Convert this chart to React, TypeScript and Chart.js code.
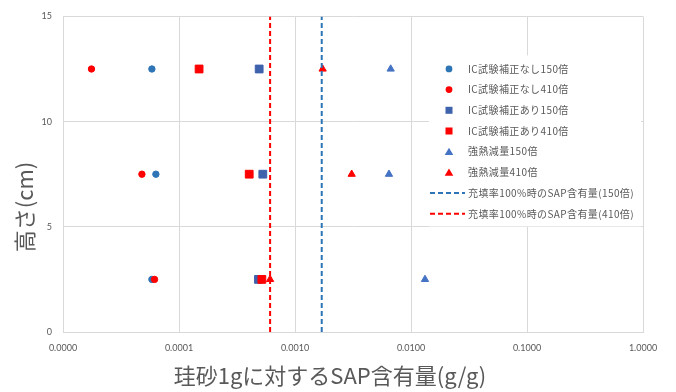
import React, { useEffect, useRef } from 'react';
import { Chart, registerables } from 'chart.js';

Chart.register(...registerables);

// ---- data ----
const heights = [12.5, 7.5, 2.5];
const icNoCorr150 = [5.84e-5, 6.32e-5, 5.84e-5];
const icNoCorr410 = [1.76e-5, 4.79e-5, 6.15e-5];
const icCorr150 = [4.91e-4, 5.28e-4, 4.84e-4];
const icCorr410 = [1.49e-4, 4.03e-4, 5.18e-4];
const ignition150 = [6.68e-3, 6.46e-3, 1.32e-2];
const ignition410 = [1.73e-3, 3.08e-3, 6.1e-4];
const fill150 = 1.7e-3;
const fill410 = 6.1e-4;
const lineHeights = [0, 15];
const seriesLabels = [
  'IC試験補正なし150倍',
  'IC試験補正なし410倍',
  'IC試験補正あり150倍',
  'IC試験補正あり410倍',
  '強熱減量150倍',
  '強熱減量410倍',
  '充填率100%時のSAP含有量(150倍)',
  '充填率100%時のSAP含有量(410倍)',
];
const xTickValues = [1e-5, 1e-4, 1e-3, 1e-2, 1e-1, 1];
const xTitle = '珪砂1gに対するSAP含有量(g/g)';
const yTitle = '高さ(cm)';

const BLUE_C = '#2E75B6';
const BLUE_S = '#3F62AD';
const BLUE_T = '#4472C4';
const RED = '#FF0000';
const BLUE_L = '#2E75B6';
const TEXT = '#595959';
const GRID = '#D9D9D9';
const CJK = "'Noto Sans CJK JP', 'Noto Sans', sans-serif";

const pts = (xs: number[]) => xs.map((x, i) => ({ x, y: heights[i] }));
const vline = (x: number) => lineHeights.map((y) => ({ x, y }));

const legendPlugin = {
  id: 'customLegend',
  beforeDatasetsDraw(chart: any) {
    const { ctx, chartArea } = chart;
    ctx.save();
    ctx.fillStyle = '#ffffff';
    ctx.fillRect(chartArea.right - 214, chartArea.top + 39, 212, 171);
    ctx.restore();
  },
  afterDatasetsDraw(chart: any) {
    const { ctx, chartArea } = chart;
    const markerX = chartArea.right - 194;
    const textX = chartArea.right - 175;
    const y0 = chartArea.top + 52.5;
    const step = 20.7;
    ctx.save();
    chart.data.datasets.forEach((ds: any, i: number) => {
      const y = y0 + i * step;
      const c = ds.backgroundColor || ds.borderColor;
      ctx.fillStyle = c;
      ctx.strokeStyle = ds.borderColor;
      if (ds.pointStyle === 'circle') {
        ctx.beginPath();
        ctx.arc(markerX, y, 3.4, 0, Math.PI * 2);
        ctx.fill();
      } else if (ds.pointStyle === 'rect') {
        ctx.fillRect(markerX - 3.5, y - 3.5, 7, 7);
      } else if (ds.pointStyle === 'triangle') {
        ctx.beginPath();
        ctx.moveTo(markerX, y - 4);
        ctx.lineTo(markerX + 4.3, y + 3.3);
        ctx.lineTo(markerX - 4.3, y + 3.3);
        ctx.closePath();
        ctx.fill();
      } else {
        ctx.lineWidth = 2;
        ctx.setLineDash([5, 3]);
        ctx.beginPath();
        ctx.moveTo(chartArea.right - 213, y);
        ctx.lineTo(chartArea.right - 178, y);
        ctx.stroke();
        ctx.setLineDash([]);
      }
      ctx.fillStyle = TEXT;
      ctx.font = `10px ${CJK}`;
      try { (ctx as any).letterSpacing = '0.4px'; } catch (e) {}
      ctx.textBaseline = 'middle';
      ctx.textAlign = 'left';
      ctx.fillText(ds.label, textX, y);
      try { (ctx as any).letterSpacing = '0px'; } catch (e) {}
    });
    ctx.restore();
  },
};

const titlePlugin = {
  id: 'axisTitles',
  afterDraw(chart: any) {
    const { ctx } = chart;
    ctx.save();
    ctx.fillStyle = TEXT;
    ctx.font = `22px ${CJK}`;
    ctx.textAlign = 'center';
    ctx.textBaseline = 'middle';
    ctx.fillText(xTitle, 330, 376);
    ctx.translate(25, 207);
    ctx.rotate(-Math.PI / 2);
    ctx.fillText(yTitle, 0, 0);
    ctx.restore();
  },
};

export default function App() {
  const ref = useRef<HTMLCanvasElement | null>(null);
  useEffect(() => {
    if (!ref.current) return;
    const mk = (label: string, data: any[], color: string, style: string, radius: number, order: number) => ({
      label,
      data,
      backgroundColor: color,
      borderColor: color,
      pointStyle: style,
      pointRadius: radius,
      pointHoverRadius: radius,
      pointBorderWidth: 1,
      showLine: false,
      order,
    });
    const chart = new Chart(ref.current, {
      type: 'scatter',
      data: {
        datasets: [
          mk(seriesLabels[0], pts(icNoCorr150), BLUE_C, 'circle', 3.2, 8),
          mk(seriesLabels[1], pts(icNoCorr410), RED, 'circle', 3.2, 7),
          mk(seriesLabels[2], pts(icCorr150), BLUE_S, 'rect', 5.5, 6),
          mk(seriesLabels[3], pts(icCorr410), RED, 'rect', 5.5, 5),
          mk(seriesLabels[4], pts(ignition150), BLUE_T, 'triangle', 4.2, 4),
          mk(seriesLabels[5], pts(ignition410), RED, 'triangle', 4.2, 3),
          {
            label: seriesLabels[6],
            data: vline(fill150),
            borderColor: BLUE_L,
            borderWidth: 2,
            borderDash: [5, 3],
            showLine: true,
            pointRadius: 0,
            pointStyle: 'line',
            order: 2,
          } as any,
          {
            label: seriesLabels[7],
            data: vline(fill410),
            borderColor: RED,
            borderWidth: 2,
            borderDash: [5, 3],
            showLine: true,
            pointRadius: 0,
            pointStyle: 'line',
            order: 1,
          } as any,
        ],
      },
      options: {
        responsive: false,
        animation: false,
        layout: { padding: { top: 15, right: 33, left: 0, bottom: 0 } },
        plugins: { legend: { display: false }, tooltip: { enabled: false } },
        scales: {
          x: {
            type: 'logarithmic',
            min: 1e-5,
            max: 1,
            afterBuildTicks: (s: any) => {
              s.ticks = xTickValues.map((v) => ({ value: v, major: true }));
            },
            afterFit: (s: any) => {
              s.height = 60;
            },
            ticks: {
              callback: (v: any) => Number(v).toFixed(4),
              font: { size: 9, family: 'Lato, sans-serif' },
              color: TEXT,
              padding: 11,
              maxRotation: 0,
              autoSkip: false,
            },
            grid: { color: GRID, drawTicks: false, lineWidth: 1 },
            border: { display: true, color: GRID },
          },
          y: {
            type: 'linear',
            min: 0,
            max: 15,
            afterFit: (s: any) => {
              s.width = 63;
            },
            ticks: {
              stepSize: 5,
              font: { size: 9, family: 'Lato, sans-serif' },
              color: TEXT,
              padding: 11,
            },
            grid: { color: GRID, drawTicks: false, lineWidth: 1 },
            border: { display: true, color: GRID },
          },
        },
      } as any,
      plugins: [legendPlugin, titlePlugin],
    });
    return () => chart.destroy();
  }, []);
  return (
    <div style={{ position: 'fixed', left: 0, top: 0, width: 676, height: 392, background: '#fff' }}>
      <canvas ref={ref} width={676} height={392} style={{ width: 676, height: 392 }} />
    </div>
  );
}
